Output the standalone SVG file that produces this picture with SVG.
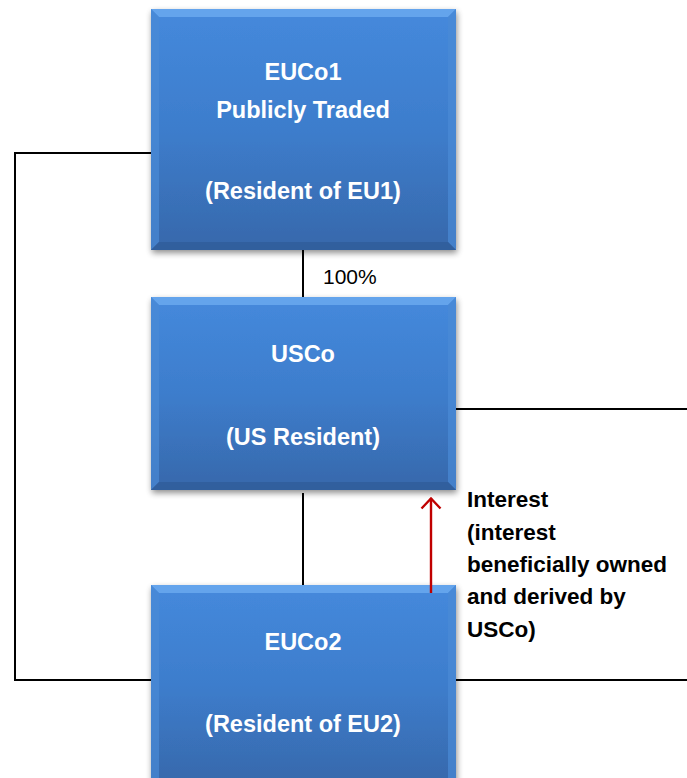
<svg xmlns="http://www.w3.org/2000/svg" width="687" height="778" viewBox="0 0 687 778">
  <defs>
    <linearGradient id="boxFill" x1="0" y1="0" x2="0" y2="1">
      <stop offset="0" stop-color="#4589dc"/>
      <stop offset="0.5" stop-color="#3d7dcc"/>
      <stop offset="1" stop-color="#3768ab"/>
    </linearGradient>
    <filter id="shadow" x="-10%" y="-10%" width="125%" height="125%">
      <feGaussianBlur in="SourceAlpha" stdDeviation="3"/>
      <feOffset dx="1" dy="3" result="b"/>
      <feComponentTransfer><feFuncA type="linear" slope="0.45"/></feComponentTransfer>
      <feMerge><feMergeNode/><feMergeNode in="SourceGraphic"/></feMerge>
    </filter>
    <marker id="arrowOpen" viewBox="0 0 14 22" refX="12.5" refY="11" markerWidth="14" markerHeight="22" markerUnits="userSpaceOnUse" orient="auto">
      <path d="M2,1.5 L12,11 L2,20.5" fill="none" stroke="#c00000" stroke-width="2.4"/>
    </marker>
  </defs>
  <style>
    .conn { stroke: #000; stroke-width: 2; fill: none; }
    .box { fill: url(#boxFill); }
    .bevTop { fill: #6aa9ee; opacity: 0.85; }
    .bevSide { fill: #4a8ad6; opacity: 0.7; }
    .bevBot { fill: #2f5d9a; opacity: 0.8; }
    .label { font-family: "Liberation Sans", Arial, sans-serif; font-weight: bold; font-size: 23.5px; fill: #fff; text-anchor: middle; }
    .note { font-family: "Liberation Sans", Arial, sans-serif; font-weight: bold; font-size: 22.5px; fill: #000; }
    .pct { font-family: "Liberation Sans", Arial, sans-serif; font-size: 21px; fill: #000; }
  </style>
  <rect width="687" height="778" fill="#fff"/>

  <g id="euco1">
    <g filter="url(#shadow)">
      <rect class="box" x="151" y="9" width="305" height="241"/>
    </g>
    <polygon class="bevTop" points="151,9 456,9 448,17 159,17"/>
    <polygon class="bevSide" points="151,9 159,17 159,242 151,250"/>
    <polygon class="bevSide" points="456,9 448,17 448,242 456,250"/>
    <polygon class="bevBot" points="151,250 159,242 448,242 456,250"/>
    <text class="label" x="303" y="80">EUCo1</text>
    <text class="label" x="303" y="118">Publicly Traded</text>
    <text class="label" x="303" y="199">(Resident of EU1)</text>
  </g>

  <g id="usco">
    <g filter="url(#shadow)">
      <rect class="box" x="151" y="297" width="305" height="193"/>
    </g>
    <polygon class="bevTop" points="151,297 456,297 448,305 159,305"/>
    <polygon class="bevSide" points="151,297 159,305 159,482 151,490"/>
    <polygon class="bevSide" points="456,297 448,305 448,482 456,490"/>
    <polygon class="bevBot" points="151,490 159,482 448,482 456,490"/>
    <text class="label" x="303" y="362">USCo</text>
    <text class="label" x="303" y="445">(US Resident)</text>
  </g>

  <g id="euco2">
    <g filter="url(#shadow)">
      <rect class="box" x="151" y="585" width="305" height="200"/>
    </g>
    <polygon class="bevTop" points="151,585 456,585 448,593 159,593"/>
    <polygon class="bevSide" points="151,585 159,593 159,785 151,785"/>
    <polygon class="bevSide" points="456,585 448,593 448,785 456,785"/>
    <text class="label" x="303" y="650">EUCo2</text>
    <text class="label" x="303" y="732">(Resident of EU2)</text>
  </g>

  <!-- drawn after the boxes so the interest arrow overlaps the top of EUCo2 -->
  <g id="connectors">
    <polyline class="conn" points="151,153 15,153 15,680 151,680"/>
    <line class="conn" x1="456" y1="409" x2="687" y2="409"/>
    <line class="conn" x1="456" y1="680" x2="687" y2="680"/>
    <line class="conn" x1="303" y1="250" x2="303" y2="297"/>
    <line class="conn" x1="303" y1="493" x2="303" y2="585"/>
    <line x1="431" y1="593" x2="431" y2="498" stroke="#c00000" stroke-width="2.4" marker-end="url(#arrowOpen)"/>
  </g>

  <g id="labels">
    <text class="pct" x="323" y="284">100%</text>
    <text class="note" x="467" y="507">Interest</text>
    <text class="note" x="467" y="540">(interest</text>
    <text class="note" x="467" y="572">beneficially owned</text>
    <text class="note" x="467" y="604">and derived by</text>
    <text class="note" x="467" y="637">USCo)</text>
  </g>
</svg>
